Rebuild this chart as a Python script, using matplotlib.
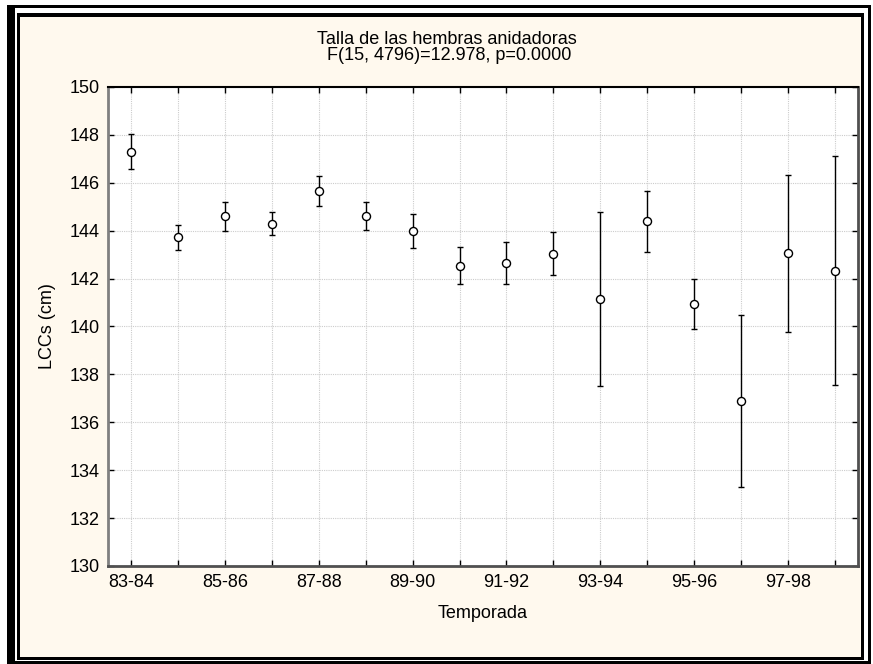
import matplotlib
matplotlib.use("Agg")
import matplotlib.pyplot as plt
from matplotlib.patches import Rectangle

# Nesting seasons and nesting-female carapace length (mean and interval half-width)
seasons = ["83-84", "84-85", "85-86", "86-87", "87-88", "88-89", "89-90", "90-91",
           "91-92", "92-93", "93-94", "94-95", "95-96", "96-97", "97-98", "98-99"]
lcc_mean = [147.3, 143.72, 144.6, 144.29, 145.67, 144.6, 143.99, 142.53,
            142.65, 143.04, 141.15, 144.4, 140.95, 136.88, 143.06, 142.33]
lcc_err = [0.72, 0.53, 0.6, 0.47, 0.62, 0.58, 0.71, 0.77,
           0.88, 0.9, 3.63, 1.27, 1.05, 3.6, 3.28, 4.78]
y_ticks = [130, 132, 134, 136, 138, 140, 142, 144, 146, 148, 150]

title_line1 = "Talla de las hembras anidadoras"
title_line2 = "F(15, 4796)=12.978, p=0.0000"

plt.rcParams["font.family"] = ["Liberation Sans", "DejaVu Sans"]

W, H = 873, 664
FS = 13
fig = plt.figure(figsize=(W / 100, H / 100), dpi=100, facecolor="white")


def px_rect(x0, y0, x1, y1, color):
    """Add a filled rectangle given in pixel coordinates (origin top-left)."""
    fig.patches.append(Rectangle((x0 / W, 1 - y1 / H), (x1 - x0) / W, (y1 - y0) / H,
                                 transform=fig.transFigure, facecolor=color,
                                 edgecolor="none", zorder=-5))


# cream panel and double black frame
px_rect(20, 17, 861, 657, "#FFF9EE")
for box in [(7, 5, 871, 8), (7, 5, 15, 664), (868, 5, 871, 664), (7, 661, 871, 664),
            (17, 13, 864, 17), (17, 13, 20, 660), (861, 13, 864, 660), (17, 657, 864, 660)]:
    px_rect(*box, "black")

ax = fig.add_axes([108 / W, 1 - 566 / H, (858 - 108) / W, (566 - 87) / H], zorder=2)
ax.set_facecolor("white")

x = list(range(len(seasons)))
ax.errorbar(x, lcc_mean, yerr=lcc_err, fmt="o", color="black", ecolor="black",
            elinewidth=1.0, capsize=2.2, capthick=1.0, markersize=5.8,
            markerfacecolor="white", markeredgecolor="black", markeredgewidth=1.0,
            zorder=3)

ax.set_xlim(-0.5, len(seasons) - 0.5)
ax.set_ylim(130, 150)
ax.set_xticks(x)
ax.set_xticklabels([s if i % 2 == 0 else "" for i, s in enumerate(seasons)])
ax.set_yticks(y_ticks)
ax.tick_params(direction="in", length=4, width=1, top=True, right=True,
               labelsize=FS, colors="black", pad=6)

ax.grid(True, color="#cccccc", linestyle=(0, (1, 1)), linewidth=0.8)
ax.set_axisbelow(True)

for side, col, lw in [("top", "black", 1.5), ("left", "#808080", 2.0),
                      ("bottom", "#505050", 2.0), ("right", "#505050", 2.0)]:
    ax.spines[side].set_color(col)
    ax.spines[side].set_linewidth(lw)

ax.set_xlabel("Temporada", fontsize=FS, labelpad=10)
ax.set_ylabel("LCCs (cm)", fontsize=FS, labelpad=10)

fig.text(447 / W, 1 - 39 / H, title_line1, ha="center", va="center", fontsize=FS)
fig.text(449 / W, 1 - 56 / H, title_line2, ha="center", va="center", fontsize=FS)

fig.savefig("out.png", dpi=100, facecolor=fig.get_facecolor())
